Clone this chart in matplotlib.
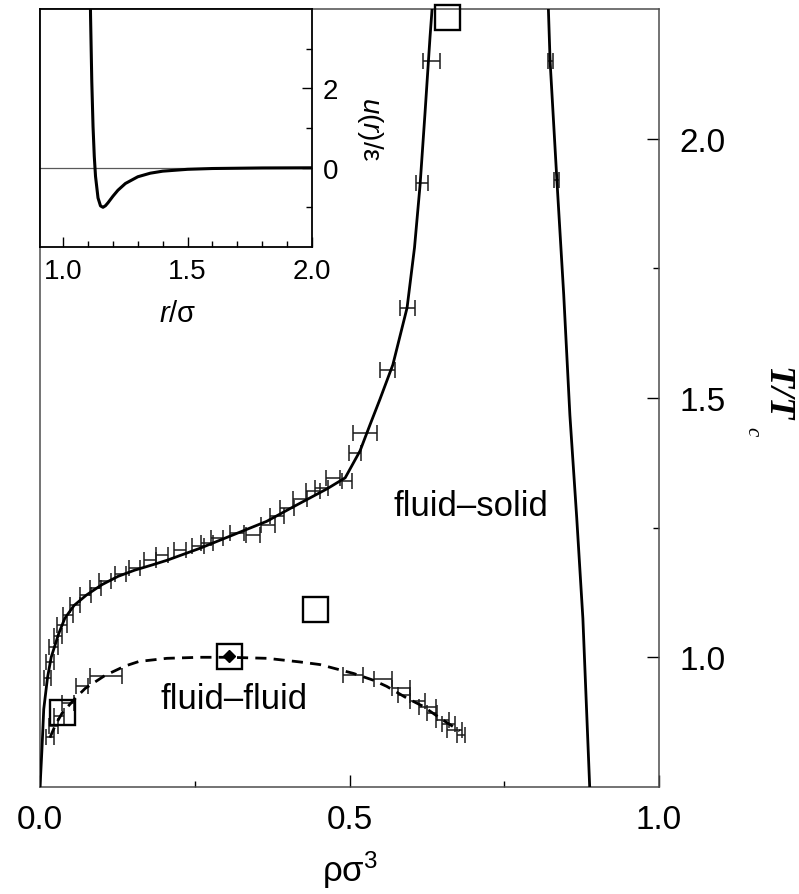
import matplotlib
matplotlib.use('Agg')
import matplotlib.pyplot as plt
from matplotlib.ticker import MultipleLocator, FixedLocator

plt.rcParams['font.family'] = ['Liberation Sans', 'DejaVu Sans']
plt.rcParams['mathtext.fontset'] = 'custom'
plt.rcParams['mathtext.rm'] = 'Liberation Sans'
plt.rcParams['mathtext.it'] = 'Liberation Sans:italic'
plt.rcParams['mathtext.sf'] = 'Liberation Sans'

# fluid side of fluid-solid coexistence (solid line)
fs_left_x = [0.000, 0.003, 0.006, 0.012, 0.018, 0.030, 0.040, 0.055, 0.075, 0.100,
             0.126, 0.153, 0.181, 0.205, 0.258, 0.312, 0.366, 0.409, 0.464, 0.493,
             0.517, 0.533, 0.549, 0.570, 0.593, 0.605, 0.614, 0.622, 0.630, 0.634]
fs_left_y = [0.750, 0.820, 0.900, 0.960, 1.000, 1.045, 1.075, 1.100, 1.120, 1.140,
             1.156, 1.168, 1.178, 1.187, 1.210, 1.236, 1.262, 1.290, 1.325, 1.346,
             1.398, 1.448, 1.497, 1.564, 1.674, 1.790, 1.911, 2.050, 2.195, 2.260]
# solid side (solid line)
fs_right_x = [0.821, 0.824, 0.835, 0.846, 0.856, 0.867, 0.877, 0.888]
fs_right_y = [2.260, 2.150, 1.920, 1.700, 1.467, 1.270, 1.075, 0.750]

# fluid-fluid coexistence (dashed)
ff_x = [0.016, 0.025, 0.036, 0.057, 0.073, 0.105, 0.137, 0.160, 0.205, 0.258,
        0.304, 0.367, 0.420, 0.452, 0.506, 0.538, 0.560, 0.593, 0.618, 0.646, 0.678]
ff_y = [0.845, 0.870, 0.893, 0.921, 0.940, 0.965, 0.983, 0.992, 0.998, 1.000,
        1.000, 0.998, 0.991, 0.986, 0.969, 0.956, 0.944, 0.921, 0.906, 0.883, 0.858]

# simulation points with horizontal error bars
fs_pts_x = [0.012, 0.016, 0.022, 0.029, 0.036, 0.045, 0.057, 0.073, 0.089, 0.105,
            0.130, 0.153, 0.178, 0.197, 0.226, 0.255, 0.270, 0.286, 0.318, 0.344,
            0.368, 0.383, 0.399, 0.420, 0.441, 0.455, 0.473, 0.496, 0.509, 0.525,
            0.562, 0.593, 0.617, 0.632, 0.824, 0.835]
fs_pts_y = [0.960, 0.990, 1.020, 1.042, 1.062, 1.081, 1.100, 1.120, 1.133, 1.147,
            1.160, 1.172, 1.187, 1.197, 1.207, 1.214, 1.220, 1.230, 1.239, 1.236,
            1.255, 1.272, 1.288, 1.305, 1.320, 1.326, 1.345, 1.340, 1.394, 1.432,
            1.554, 1.674, 1.915, 2.150, 2.150, 1.920]
fs_pts_dx = [0.006, 0.006, 0.007, 0.007, 0.008, 0.008, 0.008, 0.009, 0.009, 0.009,
             0.009, 0.009, 0.010, 0.010, 0.010, 0.010, 0.010, 0.010, 0.011, 0.011,
             0.011, 0.011, 0.011, 0.011, 0.011, 0.011, 0.011, 0.008, 0.010, 0.020,
             0.012, 0.012, 0.009, 0.014, 0.004, 0.004]

ff_pts_x = [0.016, 0.022, 0.030, 0.045, 0.068, 0.107, 0.506, 0.554, 0.583, 0.588,
            0.610, 0.626, 0.633, 0.650, 0.660, 0.670, 0.680]
ff_pts_y = [0.847, 0.868, 0.886, 0.912, 0.944, 0.963, 0.965, 0.958, 0.940, 0.927,
            0.915, 0.905, 0.893, 0.880, 0.871, 0.859, 0.851]
ff_pts_dx = [0.006, 0.007, 0.008, 0.010, 0.010, 0.026, 0.016, 0.014, 0.014, 0.010,
             0.012, 0.014, 0.008, 0.010, 0.011, 0.012, 0.006]

# open squares (other estimates) and critical point
sq_x = [0.0355, 0.305, 0.444, 0.657]
sq_y = [0.894, 1.002, 1.093, 2.234]
crit_x = [0.305]
crit_y = [1.002]

# inset: pair potential u(r)/eps vs r/sigma
pot_r = [1.105, 1.110, 1.115, 1.120, 1.125, 1.130, 1.140, 1.150, 1.160, 1.170,
         1.180, 1.200, 1.220, 1.250, 1.300, 1.350, 1.400, 1.500, 1.600, 1.800, 2.000]
pot_u = [6.30, 3.83, 2.17, 1.04, 0.286, -0.218, -0.762, -0.963, -0.999, -0.959,
         -0.886, -0.719, -0.569, -0.399, -0.229, -0.139, -0.088, -0.041, -0.021, -0.007, -0.003]

fig = plt.figure(figsize=(7.99, 8.95), dpi=100)
ax = fig.add_axes([0.0501, 0.1196, 0.7747, 0.8693])

ax.plot(fs_left_x, fs_left_y, color='black', lw=2.0, zorder=3)
ax.plot(fs_right_x, fs_right_y, color='black', lw=2.0, zorder=3)
ax.plot(ff_x, ff_y, color='black', lw=2.0, ls=(0, (4, 2.6)), zorder=3)

ax.errorbar(fs_pts_x, fs_pts_y, xerr=fs_pts_dx, fmt='none', ecolor='0.1',
            elinewidth=1.1, capsize=5.5, capthick=1.1, zorder=2)
ax.errorbar(ff_pts_x, ff_pts_y, xerr=ff_pts_dx, fmt='none', ecolor='0.1',
            elinewidth=1.1, capsize=5.5, capthick=1.1, zorder=2)

ax.plot(sq_x, sq_y, ls='none', marker='s', ms=18, mfc='none', mec='black',
        mew=1.7, zorder=4, clip_on=False)
ax.plot(crit_x, crit_y, ls='none', marker='D', ms=6, color='black', zorder=5)

ax.text(0.696, 1.274, 'fluid\u2013solid', fontsize=25, ha='center', va='baseline')
ax.text(0.314, 0.902, 'fluid\u2013fluid', fontsize=25, ha='center', va='baseline')

ax.set_xlim(0, 1.0)
ax.set_ylim(0.75, 2.25)
ax.xaxis.set_major_locator(FixedLocator([0.0, 0.5, 1.0]))
ax.xaxis.set_minor_locator(FixedLocator([0.25, 0.75]))
ax.yaxis.set_major_locator(FixedLocator([1.0, 1.5, 2.0]))
ax.yaxis.set_minor_locator(FixedLocator([1.25, 1.75]))
ax.set_xticklabels(['0.0', '0.5', '1.0'])
ax.set_yticklabels(['1.0', '1.5', '2.0'])
ax.yaxis.tick_right()
ax.tick_params(axis='both', which='both', direction='in', labelsize=24, width=1.0)
ax.tick_params(axis='both', which='major', length=8.5)
ax.tick_params(axis='both', which='minor', length=4)
ax.tick_params(axis='x', which='both', top=False, pad=12)
ax.tick_params(axis='y', which='both', left=False, right=True, pad=15)
for s in ax.spines.values():
    s.set_linewidth(1.1)
    s.set_color('0.3')

fig.text(350 / 799, 1 - 882 / 895, 'ρσ$^{3}$', fontsize=25, ha='center', va='baseline')
fig.text(776 / 799, 1 - 394 / 895, 'T/T', rotation=-90, fontsize=26, ha='center',
         va='center', family='Liberation Serif', weight='bold', style='italic')
fig.text(752 / 799, 1 - 432 / 895, 'c', rotation=-90, fontsize=15, ha='center',
         va='center', family='Liberation Serif', style='italic')

# inset
axi = fig.add_axes([0.0501, 0.7229, 0.3404, 0.2659])
axi.set_facecolor('white')
axi.axhline(0, color='0.35', lw=0.9, zorder=1)
axi.plot(pot_r, pot_u, color='black', lw=2.2, zorder=3)
axi.set_xlim(0.907, 2.0)
axi.set_ylim(-2, 4)
axi.xaxis.set_major_locator(MultipleLocator(0.5))
axi.xaxis.set_minor_locator(MultipleLocator(0.1))
axi.yaxis.set_major_locator(FixedLocator([0, 2]))
axi.yaxis.set_minor_locator(FixedLocator([-1, 1, 3]))
axi.xaxis.set_major_formatter(plt.FuncFormatter(lambda v, p: f'{v:.1f}'))
axi.yaxis.tick_right()
axi.tick_params(axis='both', which='both', direction='in', labelsize=20, width=1.0)
axi.tick_params(axis='both', which='major', length=7)
axi.tick_params(axis='both', which='minor', length=4)
axi.tick_params(axis='x', which='both', top=False, pad=8)
axi.tick_params(axis='y', which='both', left=False, right=True, pad=8)
for s in axi.spines.values():
    s.set_linewidth(1.3)
    s.set_color('black')

fig.text(178 / 799, 1 - 322 / 895, '$r$/σ', fontsize=21, ha='center', va='baseline')
fig.text(370 / 799, 1 - 129 / 895, '$u$($r$)/ε', rotation=-90, fontsize=20,
         ha='center', va='center')

fig.savefig('out.png', dpi=100)
